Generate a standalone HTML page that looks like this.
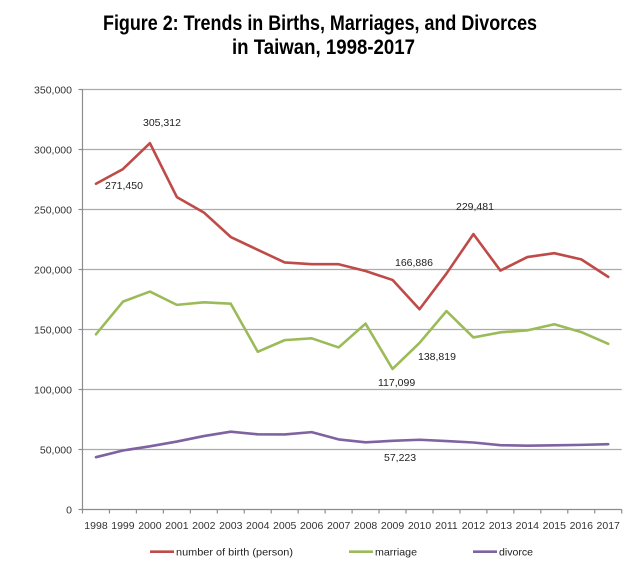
<!DOCTYPE html>
<html>
<head>
<meta charset="utf-8">
<style>
html,body{margin:0;padding:0;background:#fff;}
svg{display:block;}
text{font-family:"Liberation Sans",sans-serif;}
</style>
</head>
<body>
<svg width="640" height="572" viewBox="0 0 640 572" xmlns="http://www.w3.org/2000/svg">
<rect width="640" height="572" fill="#fff"/>
<!-- Title -->
<text x="103" y="30" font-size="21" font-weight="bold" fill="#000" textLength="434" lengthAdjust="spacingAndGlyphs">Figure 2: Trends in Births, Marriages, and Divorces</text>
<text x="232" y="54" font-size="21" font-weight="bold" fill="#000" textLength="183" lengthAdjust="spacingAndGlyphs">in Taiwan, 1998-2017</text>

<!-- Gridlines -->
<g stroke="#ababab" stroke-width="1.2">
<line x1="82.5" y1="89.5" x2="621.7" y2="89.5"/>
<line x1="82.5" y1="149.5" x2="621.7" y2="149.5"/>
<line x1="82.5" y1="209.5" x2="621.7" y2="209.5"/>
<line x1="82.5" y1="269.5" x2="621.7" y2="269.5"/>
<line x1="82.5" y1="329.5" x2="621.7" y2="329.5"/>
<line x1="82.5" y1="389.5" x2="621.7" y2="389.5"/>
<line x1="82.5" y1="449.5" x2="621.7" y2="449.5"/>
</g>
<!-- Axes -->
<g stroke="#8c8c8c" stroke-width="1.2">
<line x1="82.5" y1="89.5" x2="82.5" y2="509.5"/>
<line x1="82.5" y1="509.5" x2="621.7" y2="509.5"/>
<!-- y ticks -->
<line x1="78.5" y1="89.5" x2="82.5" y2="89.5"/>
<line x1="78.5" y1="149.5" x2="82.5" y2="149.5"/>
<line x1="78.5" y1="209.5" x2="82.5" y2="209.5"/>
<line x1="78.5" y1="269.5" x2="82.5" y2="269.5"/>
<line x1="78.5" y1="329.5" x2="82.5" y2="329.5"/>
<line x1="78.5" y1="389.5" x2="82.5" y2="389.5"/>
<line x1="78.5" y1="449.5" x2="82.5" y2="449.5"/>
<line x1="78.5" y1="509.5" x2="82.5" y2="509.5"/>
<!-- x ticks -->
<line x1="82.5" y1="509.5" x2="82.5" y2="513.5"/>
<line x1="109.46" y1="509.5" x2="109.46" y2="513.5"/>
<line x1="136.42" y1="509.5" x2="136.42" y2="513.5"/>
<line x1="163.38" y1="509.5" x2="163.38" y2="513.5"/>
<line x1="190.34" y1="509.5" x2="190.34" y2="513.5"/>
<line x1="217.3" y1="509.5" x2="217.3" y2="513.5"/>
<line x1="244.26" y1="509.5" x2="244.26" y2="513.5"/>
<line x1="271.22" y1="509.5" x2="271.22" y2="513.5"/>
<line x1="298.18" y1="509.5" x2="298.18" y2="513.5"/>
<line x1="325.14" y1="509.5" x2="325.14" y2="513.5"/>
<line x1="352.1" y1="509.5" x2="352.1" y2="513.5"/>
<line x1="379.06" y1="509.5" x2="379.06" y2="513.5"/>
<line x1="406.02" y1="509.5" x2="406.02" y2="513.5"/>
<line x1="432.98" y1="509.5" x2="432.98" y2="513.5"/>
<line x1="459.94" y1="509.5" x2="459.94" y2="513.5"/>
<line x1="486.9" y1="509.5" x2="486.9" y2="513.5"/>
<line x1="513.86" y1="509.5" x2="513.86" y2="513.5"/>
<line x1="540.82" y1="509.5" x2="540.82" y2="513.5"/>
<line x1="567.78" y1="509.5" x2="567.78" y2="513.5"/>
<line x1="594.74" y1="509.5" x2="594.74" y2="513.5"/>
<line x1="621.7" y1="509.5" x2="621.7" y2="513.5"/>
</g>

<!-- Y labels -->
<g font-size="10.5" fill="#333" text-anchor="end">
<text x="72" y="93.3">350,000</text>
<text x="72" y="153.3">300,000</text>
<text x="72" y="213.3">250,000</text>
<text x="72" y="273.3">200,000</text>
<text x="72" y="333.3">150,000</text>
<text x="72" y="393.3">100,000</text>
<text x="72" y="453.3">50,000</text>
<text x="72" y="513.3">0</text>
</g>

<!-- X labels -->
<g font-size="10.5" fill="#333" text-anchor="middle">
<text x="95.98" y="529">1998</text>
<text x="122.94" y="529">1999</text>
<text x="149.9" y="529">2000</text>
<text x="176.86" y="529">2001</text>
<text x="203.82" y="529">2002</text>
<text x="230.78" y="529">2003</text>
<text x="257.74" y="529">2004</text>
<text x="284.7" y="529">2005</text>
<text x="311.66" y="529">2006</text>
<text x="338.62" y="529">2007</text>
<text x="365.58" y="529">2008</text>
<text x="392.54" y="529">2009</text>
<text x="419.5" y="529">2010</text>
<text x="446.46" y="529">2011</text>
<text x="473.42" y="529">2012</text>
<text x="500.38" y="529">2013</text>
<text x="527.34" y="529">2014</text>
<text x="554.3" y="529">2015</text>
<text x="581.26" y="529">2016</text>
<text x="608.22" y="529">2017</text>
</g>

<!-- Series -->
<g fill="none" stroke-width="2.6" stroke-linejoin="round" stroke-linecap="round">
<polyline stroke="#be4b48" points="95.98,183.76 122.94,169.11 149.9,143.13 176.86,197.08 203.82,212.46 230.78,237.02 257.74,249.8 284.7,262.48 311.66,264.15 338.62,264.2 365.58,271.02 392.54,279.93 419.5,309.24 446.46,273.55 473.42,234.12 500.38,270.56 527.34,257.04 554.3,253.18 581.26,259.37 608.22,276.89"/>
<polyline stroke="#9bbb59" points="95.98,334.33 122.94,301.65 149.9,291.53 176.86,304.88 203.82,302.31 230.78,303.72 257.74,351.76 284.7,340.13 311.66,338.3 338.62,347.45 365.58,323.66 392.54,368.98 419.5,342.92 446.46,311.11 473.42,337.44 500.38,332.34 527.34,330.36 554.3,324.28 581.26,332.07 608.22,343.86"/>
<polyline stroke="#7f63a1" points="95.98,457.18 122.94,450.51 149.9,446.3 176.86,441.55 203.82,436.04 230.78,431.66 257.74,434.34 284.7,434.41 311.66,432.13 338.62,439.41 365.58,442.31 392.54,440.83 419.5,439.76 446.46,441.09 473.42,442.5 500.38,445.18 527.34,445.73 554.3,445.36 581.26,444.88 608.22,444.17"/>
</g>

<!-- Data labels -->
<g font-size="10.5" fill="#222">
<text x="143" y="126">305,312</text>
<text x="105" y="189">271,450</text>
<text x="395" y="266">166,886</text>
<text x="456" y="210">229,481</text>
<text x="418" y="360">138,819</text>
<text x="378" y="386">117,099</text>
<text x="384" y="461">57,223</text>
</g>

<!-- Legend -->
<g stroke-width="2.6">
<line x1="150" y1="551.7" x2="174" y2="551.7" stroke="#be4b48"/>
<line x1="349" y1="551.7" x2="373" y2="551.7" stroke="#9bbb59"/>
<line x1="473" y1="551.7" x2="497" y2="551.7" stroke="#7f63a1"/>
</g>
<g font-size="10.5" fill="#222">
<text x="176" y="555.5" textLength="117" lengthAdjust="spacingAndGlyphs">number of birth (person)</text>
<text x="375" y="555.5" textLength="42" lengthAdjust="spacingAndGlyphs">marriage</text>
<text x="499" y="555.5" textLength="34" lengthAdjust="spacingAndGlyphs">divorce</text>
</g>
</svg>
</body>
</html>
